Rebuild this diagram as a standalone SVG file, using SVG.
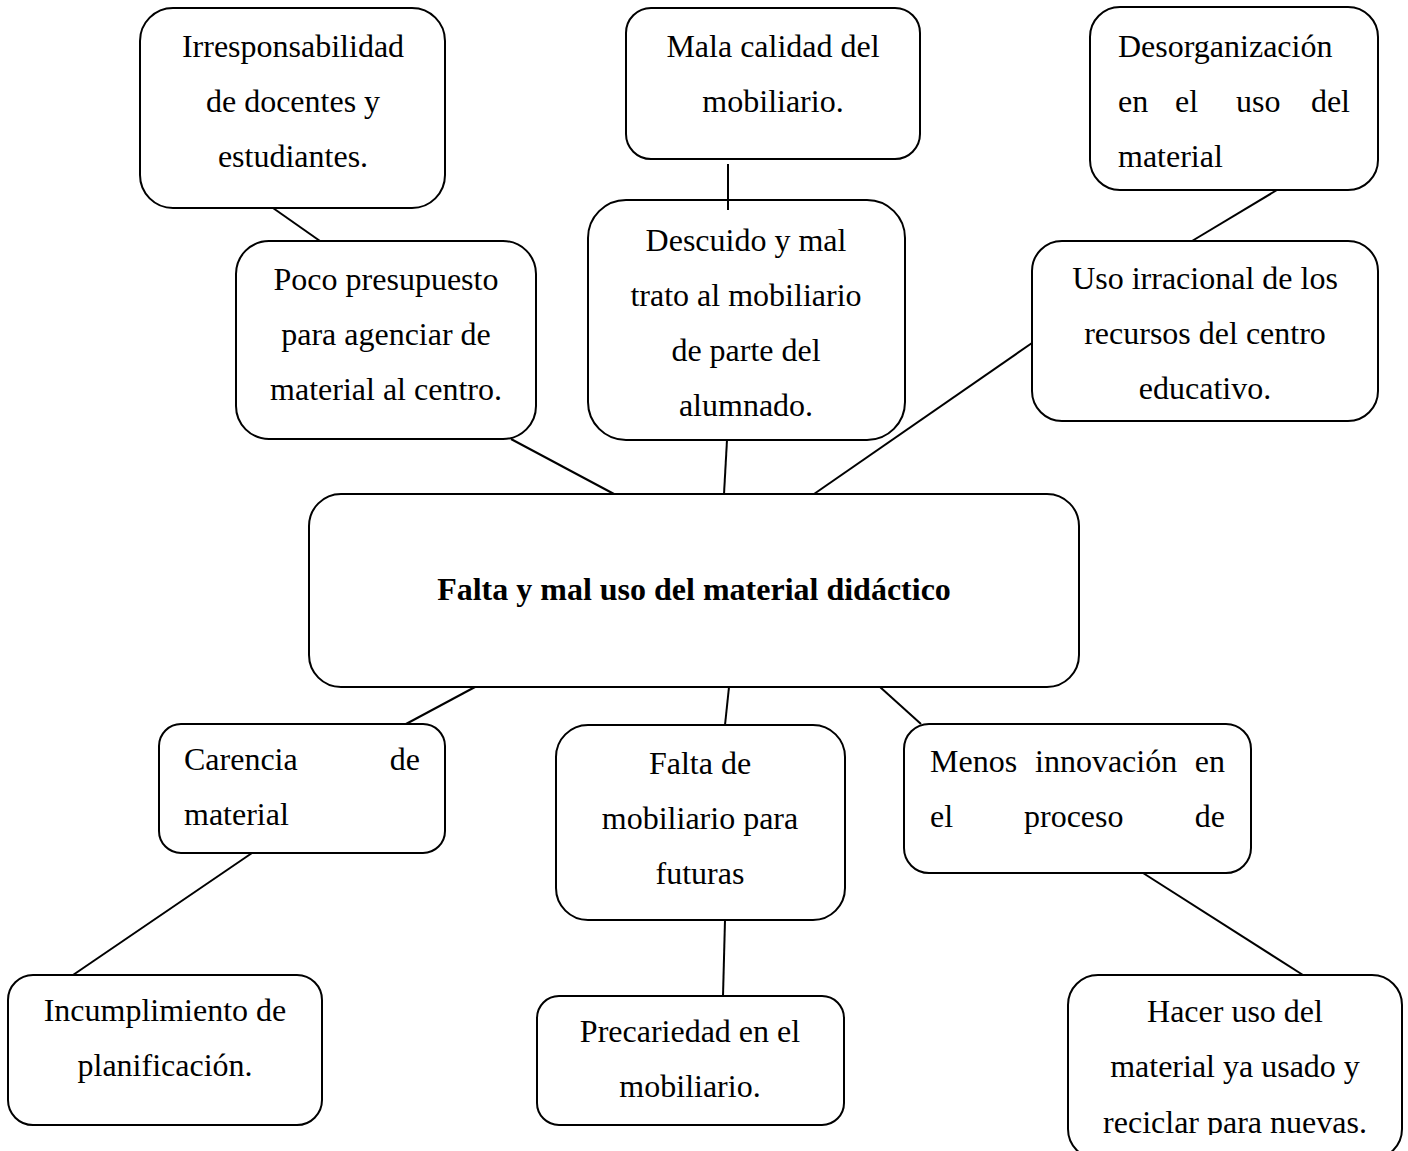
<svg xmlns="http://www.w3.org/2000/svg" width="1408" height="1151" viewBox="0 0 1408 1151">
<style>
.box{fill:#fff;stroke:#000;stroke-width:2}
.t{font-family:"Liberation Serif","Times New Roman",serif;font-size:32px;fill:#000}
.c{text-anchor:middle}
.e{text-anchor:end}
.b{font-weight:bold}
#connectors line{stroke:#000;stroke-width:2}
</style>
<defs>
<clipPath id="clipHacer"><rect x="1060" y="960" width="348" height="175"/></clipPath>
</defs>
<rect width="1408" height="1151" fill="#fff"/>
<g id="n-irresponsabilidad">
<rect class="box" x="140" y="8" width="305" height="200" rx="33"/>
<text class="t c" x="293" y="57">Irresponsabilidad</text>
<text class="t c" x="293" y="112">de docentes y</text>
<text class="t c" x="293" y="167">estudiantes.</text>
</g>
<g id="n-mala-calidad">
<rect class="box" x="626" y="8" width="294" height="151" rx="25"/>
<text class="t c" x="773" y="57">Mala calidad del</text>
<text class="t c" x="773" y="112">mobiliario.</text>
</g>
<g id="n-desorganizacion">
<rect class="box" x="1090" y="7" width="288" height="183" rx="30"/>
<text class="t" x="1118" y="57">Desorganización</text>
<text class="t" x="1118" y="112">en</text>
<text class="t" x="1175" y="112">el</text>
<text class="t" x="1236" y="112">uso</text>
<text class="t e" x="1350" y="112">del</text>
<text class="t" x="1118" y="167">material</text>
</g>
<g id="n-poco-presupuesto">
<rect class="box" x="236" y="241" width="300" height="198" rx="33"/>
<text class="t c" x="386" y="290">Poco presupuesto</text>
<text class="t c" x="386" y="345">para agenciar de</text>
<text class="t c" x="386" y="400">material al centro.</text>
</g>
<g id="n-descuido">
<rect class="box" x="588" y="200" width="317" height="240" rx="38"/>
<text class="t c" x="746" y="251">Descuido y mal</text>
<text class="t c" x="746" y="306">trato al mobiliario</text>
<text class="t c" x="746" y="361">de parte del</text>
<text class="t c" x="746" y="416">alumnado.</text>
</g>
<g id="n-uso-irracional">
<rect class="box" x="1032" y="241" width="346" height="180" rx="30"/>
<text class="t c" x="1205" y="289">Uso irracional de los</text>
<text class="t c" x="1205" y="344">recursos del centro</text>
<text class="t c" x="1205" y="399">educativo.</text>
</g>
<g id="n-central">
<rect class="box" x="309" y="494" width="770" height="193" rx="32"/>
<text class="t c b" x="694" y="600">Falta y mal uso del material didáctico</text>
</g>
<g id="n-carencia">
<rect class="box" x="159" y="724" width="286" height="129" rx="22"/>
<text class="t" x="184" y="770">Carencia</text>
<text class="t e" x="420" y="770">de</text>
<text class="t" x="184" y="825">material</text>
</g>
<g id="n-falta-mobiliario">
<rect class="box" x="556" y="725" width="289" height="195" rx="32"/>
<text class="t c" x="700" y="774">Falta de</text>
<text class="t c" x="700" y="829">mobiliario para</text>
<text class="t c" x="700" y="884">futuras</text>
</g>
<g id="n-menos-innovacion">
<rect class="box" x="904" y="724" width="347" height="149" rx="25"/>
<text class="t" x="930" y="772">Menos</text>
<text class="t" x="1035" y="772">innovación</text>
<text class="t e" x="1225" y="772">en</text>
<text class="t" x="930" y="827">el</text>
<text class="t" x="1024" y="827">proceso</text>
<text class="t e" x="1225" y="827">de</text>
</g>
<g id="n-incumplimiento">
<rect class="box" x="8" y="975" width="314" height="150" rx="25"/>
<text class="t c" x="165" y="1021">Incumplimiento de</text>
<text class="t c" x="165" y="1076">planificación.</text>
</g>
<g id="n-precariedad">
<rect class="box" x="537" y="996" width="307" height="129" rx="22"/>
<text class="t c" x="690" y="1042">Precariedad en el</text>
<text class="t c" x="690" y="1097">mobiliario.</text>
</g>
<g id="n-hacer-uso">
<rect class="box" x="1068" y="975" width="334" height="184" rx="30"/>
<g clip-path="url(#clipHacer)">
<text class="t c" x="1235" y="1022">Hacer uso del</text>
<text class="t c" x="1235" y="1077">material ya usado y</text>
<text class="t c" x="1235" y="1133">reciclar para nuevas.</text>
</g>
</g>
<g id="connectors">
<line x1="273" y1="208" x2="320" y2="241"/>
<line x1="728" y1="164" x2="728" y2="210"/>
<line x1="1277" y1="190" x2="1192" y2="241"/>
<line x1="511" y1="439" x2="614" y2="494"/>
<line x1="727" y1="440" x2="724" y2="494"/>
<line x1="1032" y1="343" x2="814" y2="494"/>
<line x1="475" y1="687" x2="406" y2="724"/>
<line x1="729" y1="687" x2="725" y2="725"/>
<line x1="880" y1="687" x2="921" y2="724"/>
<line x1="252" y1="853" x2="73" y2="975"/>
<line x1="725" y1="920" x2="723" y2="996"/>
<line x1="1143" y1="873" x2="1303" y2="975"/>
</g>
</svg>
